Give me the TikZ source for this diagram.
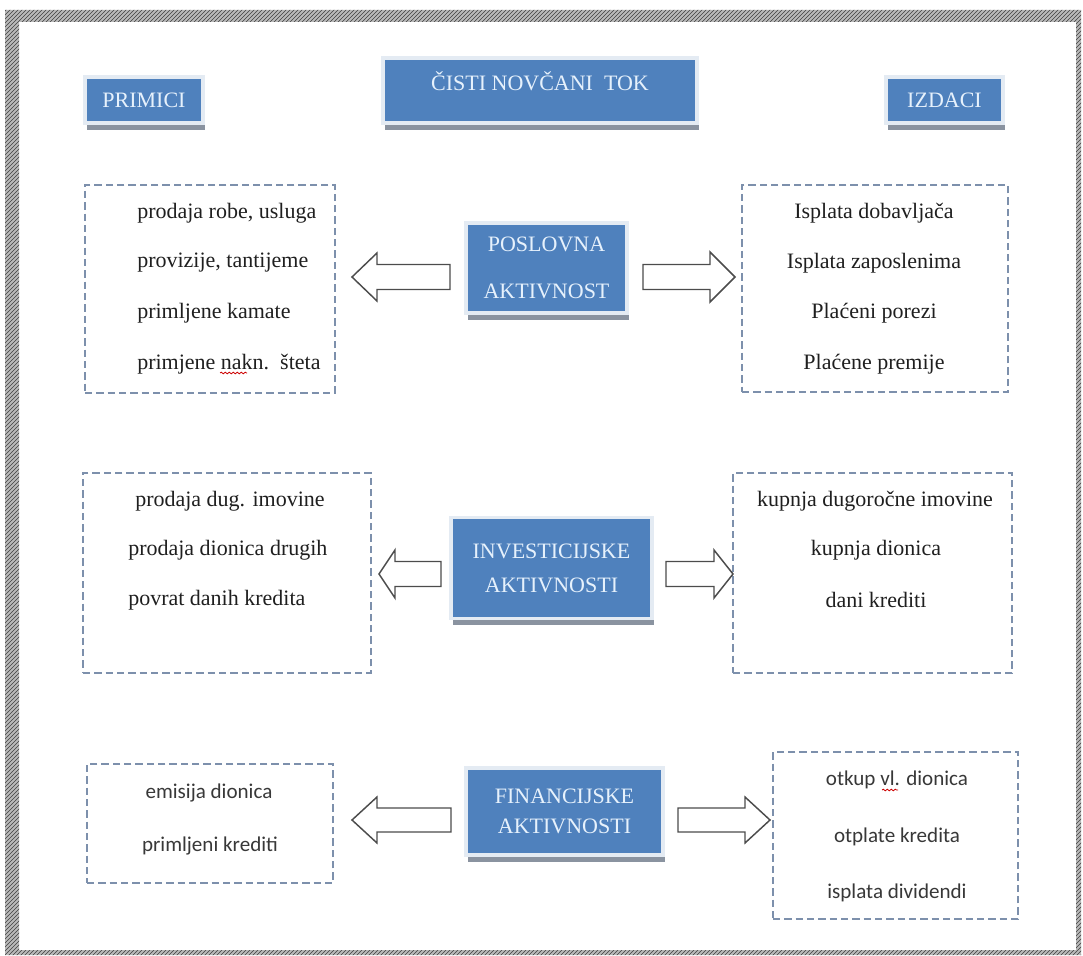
\documentclass[tikz,border=0pt]{standalone}
\usepackage{fontspec}
\setmainfont{LiberationSerif}[Extension=.ttf, UprightFont=*-Regular, BoldFont=*-Bold, ItalicFont=*-Italic, BoldItalicFont=*-BoldItalic]
\newfontfamily\tnr{LiberationSerif}[Extension=.ttf, UprightFont=*-Regular]
\newfontfamily\calib{Carlito}
\usetikzlibrary{patterns,shadows,decorations.pathmorphing}
\definecolor{boxblue}{HTML}{4F81BD}
\definecolor{boxtext}{HTML}{E6F1FC}
\definecolor{dashcol}{HTML}{7D90AC}
\definecolor{shadowgray}{HTML}{8A93A0}
\definecolor{rimcol}{HTML}{E4EBF3}
\tikzset{
  bluebox/.style={fill=boxblue, draw=rimcol, line width=2.5pt, text=boxtext,
    inner sep=0pt, align=center,
    drop shadow={shadow xshift=1.2pt, shadow yshift=-5pt, opacity=1, fill=shadowgray}},
  bw/.style={minimum width=#1*0.75pt},
  bh/.style={minimum height=#1*0.75pt},
  dashbox/.style={draw=dashcol, line width=1.4pt, dash pattern=on 5.5pt off 3pt, inner sep=0pt},
  blockarrow/.style={draw=black!70, fill=white, line width=1.1pt, line join=miter},
  romtxt/.style={font=\tnr\fontsize{16.5}{20}\selectfont, text=black!88, inner sep=0pt},
  sanstxt/.style={font=\calib\fontsize{15.8}{19}\selectfont, text=black!78, inner sep=0pt},
  squig/.style={draw=red!80!black, line width=0.6pt, decorate, decoration={snake, amplitude=0.6pt, segment length=3pt}},
}
\newcommand\blockarr[6]{% tipx, basex, endx, cy, head half, body half
  \draw[blockarrow] (#1,#4) -- (#2,#4-#5) -- (#2,#4-#6) -- (#3,#4-#6) -- (#3,#4+#6) -- (#2,#4+#6) -- (#2,#4+#5) -- cycle;}
\begin{document}
\begin{tikzpicture}[x=0.75pt,y=-0.75pt]
\useasboundingbox (0,0) rectangle (1083,956);
% outer hatched frame
\fill[gray!55, even odd rule] (5,10) rectangle (1081,955) (19,22) rectangle (1076,950);
\fill[pattern=north east lines, pattern color=black!75, even odd rule] (5,10) rectangle (1081,955) (19,22) rectangle (1076,950);

% header boxes
\node[bluebox, bw=118, bh=46, font=\tnr\fontsize{16.5}{20}\selectfont] (primici) at (144,100) {PRIMICI};
\node[bluebox, bw=314, bh=65] (tok) at (540,90.5) {};
\node[text=boxtext, font=\tnr\fontsize{16.5}{20}\selectfont, inner sep=0pt] (toktxt) at (540,81) {ČISTI NOVČANI\ \ TOK};
\node[bluebox, bw=117, bh=46, font=\tnr\fontsize{16.5}{20}\selectfont] (izdaci) at (944.5,100) {IZDACI};

% activity boxes
\node[bluebox, bw=161, bh=90, font=\tnr\fontsize{16.5}{35}\selectfont] (posl) at (546.5,268) {POSLOVNA\\AKTIVNOST};
\node[bluebox, bw=201, bh=101, font=\tnr\fontsize{16.5}{25.5}\selectfont] (inv) at (551.5,568) {INVESTICIJSKE\\AKTIVNOSTI};
\node[bluebox, bw=197, bh=87, font=\tnr\fontsize{16.5}{22.5}\selectfont] (fin) at (564.5,811.5) {FINANCIJSKE\\AKTIVNOSTI};

% dashed boxes
\node[dashbox, bw=250, bh=208] (pl) at (210,289) {};
\node[dashbox, bw=266, bh=207] (pr) at (875,288.5) {};
\node[dashbox, bw=288, bh=200] (il) at (227,573) {};
\node[dashbox, bw=279, bh=200] (ir) at (872.5,573) {};
\node[dashbox, bw=246, bh=119] (fl) at (210,823.5) {};
\node[dashbox, bw=245, bh=167] (fr) at (895.5,835.5) {};

% texts: operating
\node[romtxt, anchor=west] (pl1) at (137,213) {prodaja robe, usluga};
\node[romtxt, anchor=west] (pl2) at (137,263) {provizije, tantijeme};
\node[romtxt, anchor=west] (pl3) at (137,313) {primljene kamate};
\node[romtxt, anchor=west] (pl4) at (137,364) {primjene nakn.\ \ šteta};
\draw[squig] (220,373) -- (247,373);
\node[romtxt] (pr1) at (874,213) {Isplata dobavljača};
\node[romtxt] (pr2) at (874,263) {Isplata zaposlenima};
\node[romtxt] (pr3) at (874,313) {Plaćeni porezi};
\node[romtxt] (pr4) at (874,364) {Plaćene premije};

% texts: investing
\node[romtxt, anchor=west] (il1) at (135,501) {prodaja dug. imovine};
\node[romtxt, anchor=west] (il2) at (128,550) {prodaja dionica drugih};
\node[romtxt, anchor=west] (il3) at (128,600) {povrat danih kredita};
\node[romtxt] (ir1) at (875,501) {kupnja dugoročne imovine};
\node[romtxt] (ir2) at (876,550) {kupnja dionica};
\node[romtxt] (ir3) at (876,600) {dani krediti};

% texts: financing
\node[sanstxt] (fl1) at (209,793) {emisija dionica};
\node[sanstxt] (fl2) at (210,846) {primljeni krediti};
\node[sanstxt] (fr1) at (897,780) {otkup vl. dionica};
\draw[squig] (882,790) -- (898,790);
\node[sanstxt] (fr2) at (897,837) {otplate kredita};
\node[sanstxt] (fr3) at (897,893) {isplata dividendi};

% block arrows
\blockarr{352}{377}{450}{277}{24}{12.5}
\blockarr{735}{710}{643}{277}{25}{12.5}
\blockarr{379}{395}{441}{574}{24}{12.5}
\blockarr{733}{714}{666}{574}{24}{12.5}
\blockarr{352}{377}{451}{820}{23}{12}
\blockarr{770}{745}{678}{820}{23}{12}
\end{tikzpicture}
\end{document}
